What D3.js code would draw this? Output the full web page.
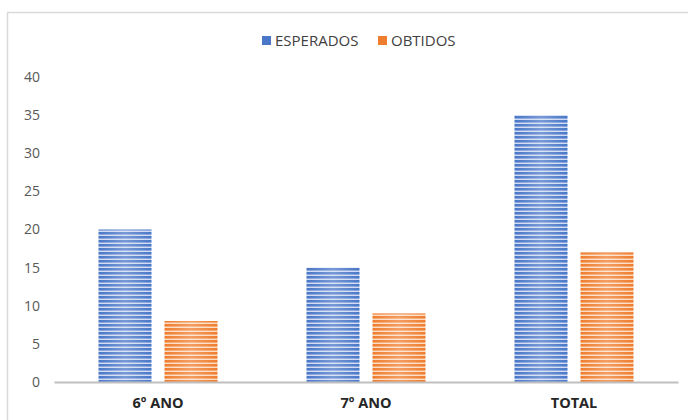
<!DOCTYPE html>
<html>
<head>
<meta charset="utf-8">
<script src="https://cdn.jsdelivr.net/npm/d3@7"></script>
<style>
  body { margin: 0; background: #fff; }
  text { font-family: "Open Sans", "Liberation Sans", sans-serif; }
</style>
</head>
<body>
<div id="chart"></div>
<script>
// chart data
var categories = ["6º ANO", "7º ANO", "TOTAL"];
var seriesNames = ["ESPERADOS", "OBTIDOS"];
var esperados = [20, 15, 35];
var obtidos = [8, 9, 17];
var yTicks = [0, 5, 10, 15, 20, 25, 30, 35, 40];

var width = 688, height = 420;
var plotLeft = 54, plotRight = 678;

var svg = d3.select("#chart").append("svg")
    .attr("width", width)
    .attr("height", height);

// striped fills
var defs = svg.append("defs");
function stripes(id, dark, mid, light) {
    var p = defs.append("pattern")
        .attr("id", id)
        .attr("patternUnits", "userSpaceOnUse")
        .attr("width", 4).attr("height", 4);
    p.append("rect").attr("width", 4).attr("height", 4).attr("fill", light);
    p.append("rect").attr("width", 4).attr("height", 2).attr("fill", dark);
    p.append("rect").attr("y", 2).attr("width", 4).attr("height", 1).attr("fill", mid);
}
stripes("stripeBlue", "#4a77c8", "#86a3dc", "#cfdbf2");
stripes("stripeOrange", "#ef7d2e", "#f5a66e", "#fbdcc4");

var sheen = defs.append("linearGradient").attr("id", "sheen");
sheen.append("stop").attr("offset", "0").attr("stop-color", "#fff").attr("stop-opacity", 0);
sheen.append("stop").attr("offset", "0.5").attr("stop-color", "#fff").attr("stop-opacity", 0.25);
sheen.append("stop").attr("offset", "1").attr("stop-color", "#fff").attr("stop-opacity", 0);

// chart border (cut off at the right/bottom)
svg.append("rect")
    .attr("x", 7.5).attr("y", 12.5)
    .attr("width", 700).attr("height", 420)
    .attr("fill", "none")
    .attr("stroke", "#d9d9d9")
    .attr("stroke-width", 1.5);

var x_scale = d3.scaleBand()
    .domain(categories)
    .range([plotLeft, plotRight]);

var y_scale = d3.scaleLinear()
    .domain([0, 40])
    .range([382, 77]);

var pairWidth = 119;
var x_inner = d3.scaleBand()
    .domain(seriesNames)
    .range([0, pairWidth])
    .paddingInner(0.197);

function barX(name) {
    return function (d, i) {
        return x_scale(categories[i]) + (x_scale.bandwidth() - pairWidth) / 2 + x_inner(name);
    };
}

// y axis labels
var y_axis = d3.axisLeft(y_scale).tickValues(yTicks).tickSize(0).tickPadding(0);
var gy = svg.append("g")
    .attr("transform", "translate(40,0)")
    .call(y_axis);
gy.select(".domain").remove();
gy.selectAll("text")
    .attr("fill", "#595959")
    .style("font-size", "14px");

// bars
var data = [esperados, obtidos];
var fills = ["url(#stripeBlue)", "url(#stripeOrange)"];
seriesNames.forEach(function (name, si) {
    var bars = svg.append("g").selectAll("g")
        .data(data[si])
        .enter().append("g");
    bars.append("rect")
        .attr("x", barX(name))
        .attr("y", function (d) { return y_scale(d); })
        .attr("width", x_inner.bandwidth())
        .attr("height", function (d) { return y_scale(0) - y_scale(d); })
        .attr("fill", fills[si]);
    bars.append("rect")
        .attr("x", barX(name))
        .attr("y", function (d) { return y_scale(d); })
        .attr("width", x_inner.bandwidth())
        .attr("height", function (d) { return y_scale(0) - y_scale(d); })
        .attr("fill", "url(#sheen)");
});

// baseline and category labels
var x_axis = d3.axisBottom(x_scale).tickSize(0).tickPadding(16);
var gx = svg.append("g")
    .attr("transform", "translate(0," + y_scale(0) + ")")
    .call(x_axis);
gx.select(".domain")
    .attr("stroke", "#bfbfbf")
    .attr("stroke-width", 2);
gx.selectAll("text")
    .attr("fill", "#262626")
    .style("font-size", "14.5px")
    .style("font-weight", "bold");

// legend
var legendX = [262, 378];
var legendFill = ["#4a77c8", "#ef7d2e"];
var legend = svg.append("g");
seriesNames.forEach(function (name, i) {
    legend.append("rect")
        .attr("x", legendX[i]).attr("y", 36)
        .attr("width", 9).attr("height", 9)
        .attr("fill", legendFill[i]);
    legend.append("text")
        .attr("x", legendX[i] + 13).attr("y", 41)
        .attr("dy", "0.35em")
        .attr("fill", "#404040")
        .style("font-size", "15px")
        .text(name);
});
</script>
</body>
</html>
